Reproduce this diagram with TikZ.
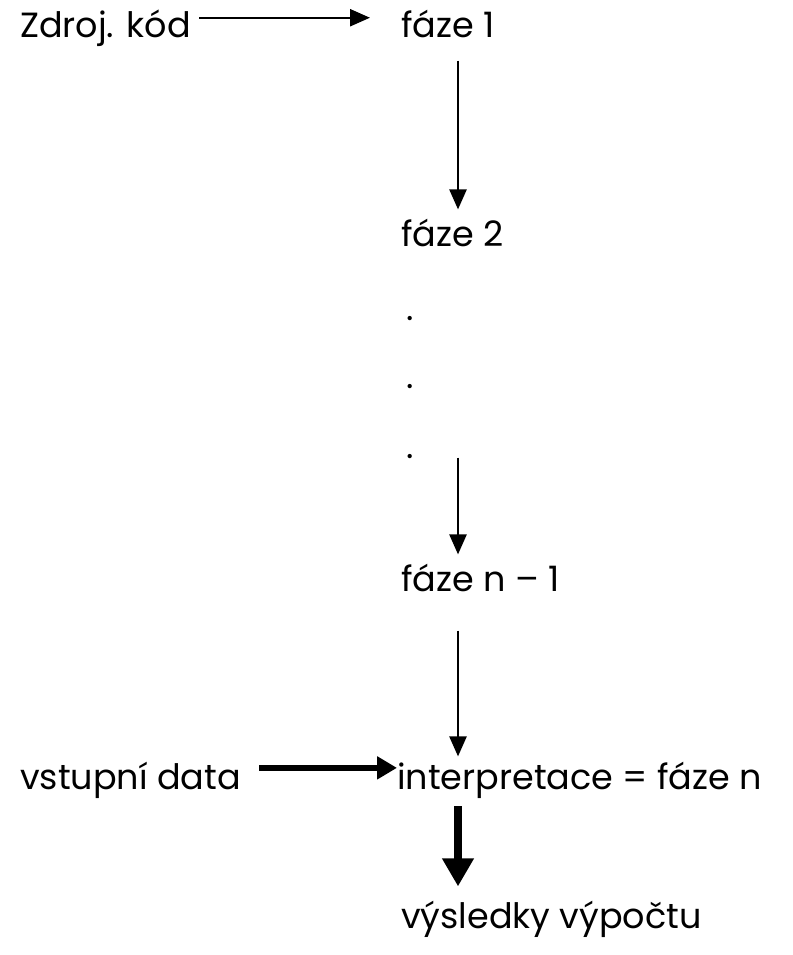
\documentclass[tikz,border=0pt]{standalone}
\usepackage{fontspec}
\setmainfont{Poppins}
\usetikzlibrary{arrows.meta}
\begin{document}
\begin{tikzpicture}[x=1pt,y=-1pt,
  lbl/.style={anchor=base west,inner sep=0pt,font=\fontsize{35}{38}\selectfont},
  thin/.style={line width=2.4pt,-{Triangle[length=20pt,width=17pt]}},
  thick/.style={line width=6pt,-{Triangle[length=20pt,width=22pt]}},
  thicker/.style={line width=8pt,-{Triangle[length=28pt,width=30pt]}}]
\useasboundingbox (0,0) rectangle (792,955);
\coordinate (ax) at (458,0);
\node[lbl] (zk) at (20,38) {Zdroj. kód};
\node[lbl] (f1) at (401,38) {fáze 1};
\node[lbl] (f2) at (401,246) {fáze 2};
\node[lbl] (d1) at (406,320) {.};
\node[lbl] (d2) at (406,388) {.};
\node[lbl] (d3) at (406,458) {.};
\node[lbl] (fn1) at (401,591) {fáze n – 1};
\node[lbl] (vd) at (20,789) {vstupní data};
\node[lbl] (ip) at (397,789) {interpretace = fáze n};
\node[lbl] (vv) at (401,928) {výsledky výpočtu};
\draw[thin] (zk.east) ++(8,-11) coordinate (a1s) -- (a1s -| 370,0) coordinate (a1e);
\draw[thin,shorten <=22pt,shorten >=9pt] (f1.south -| ax) -- (f2.north -| ax);
\draw[thin,shorten <=4pt,shorten >=9pt] (d3.north -| ax) -- (fn1.north -| ax);
\draw[thin,shorten <=39pt,shorten >=5pt] (fn1.south -| ax) -- (ip.north -| ax);
\draw[thick] (vd.east) ++(18,-12) coordinate (a5s) -- (a5s -| ip.west);
\draw[thicker,shorten <=8pt,shorten >=14pt] (ip.south -| ax) -- (vv.north -| ax);
\end{tikzpicture}
\end{document}
